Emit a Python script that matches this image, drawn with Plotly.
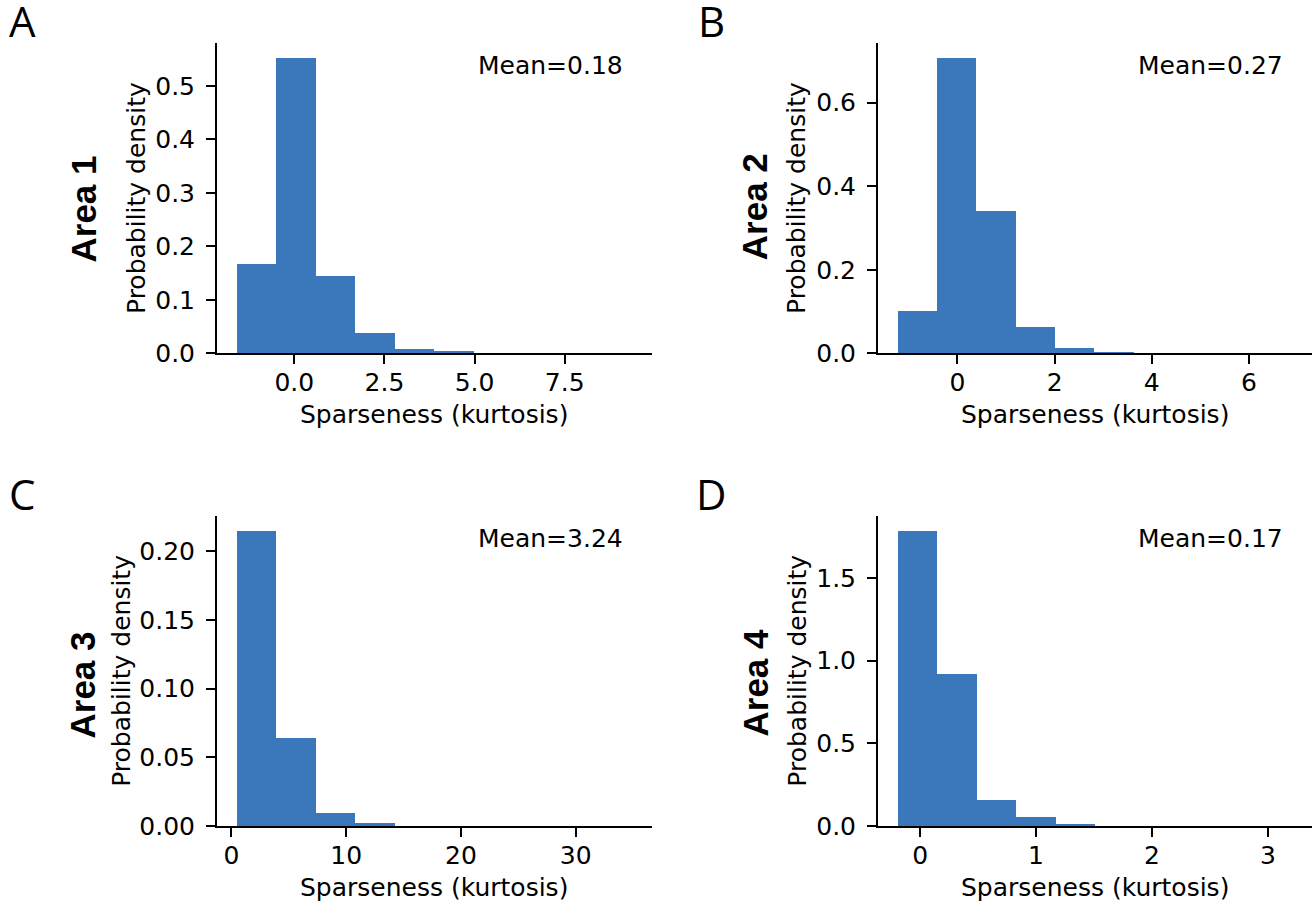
import plotly.graph_objects as go

# ---------------- data ----------------
edges_area1 = [-1.59, -0.50, 0.60, 1.69, 2.79, 3.88, 4.98, 6.07, 7.17, 8.26, 9.36]
dens_area1 = [0.167, 0.552, 0.1445, 0.038, 0.008, 0.0043, 0.0, 0.0, 0.0, 0.0]

edges_area2 = [-1.23, -0.42, 0.39, 1.20, 2.01, 2.82, 3.63, 4.44, 5.25, 6.06, 6.87]
dens_area2 = [0.101, 0.7065, 0.3405, 0.0637, 0.0127, 0.003, 0.0, 0.0, 0.0, 0.0]

edges_area3 = [0.46, 3.90, 7.34, 10.78, 14.22, 17.66, 21.10, 24.54, 27.98, 31.42, 34.86]
dens_area3 = [0.2145, 0.064, 0.0095, 0.0022, 0.0, 0.0, 0.0, 0.0, 0.0, 0.0]

edges_area4 = [-0.19, 0.15, 0.49, 0.83, 1.17, 1.51, 1.85, 2.19, 2.53, 2.87, 3.21]
dens_area4 = [1.783, 0.919, 0.157, 0.054, 0.012, 0.0, 0.0, 0.0, 0.0, 0.0]

means = ["0.18", "0.27", "3.24", "0.17"]
area_labels = ["Area 1", "Area 2", "Area 3", "Area 4"]
panel_letters = ["A", "B", "C", "D"]

xticks = [[0.0, 2.5, 5.0, 7.5], [0, 2, 4, 6], [0, 10, 20, 30], [0, 1, 2, 3]]
xticktext = [["0.0", "2.5", "5.0", "7.5"], ["0", "2", "4", "6"], ["0", "10", "20", "30"], ["0", "1", "2", "3"]]
yticks = [[0.0, 0.1, 0.2, 0.3, 0.4, 0.5], [0.0, 0.2, 0.4, 0.6],
          [0.00, 0.05, 0.10, 0.15, 0.20], [0.0, 0.5, 1.0, 1.5]]
yticktext = [["0.0", "0.1", "0.2", "0.3", "0.4", "0.5"], ["0.0", "0.2", "0.4", "0.6"],
             ["0.00", "0.05", "0.10", "0.15", "0.20"], ["0.0", "0.5", "1.0", "1.5"]]

xranges = [[-2.144, 9.909], [-1.634, 7.29], [-1.26, 36.6], [-0.363, 3.378]]
yranges = [[0, 0.58], [0, 0.743], [0, 0.2255], [0, 1.875]]

# ---------------- layout geometry ----------------
W, H = 1314, 905
BLUE = "#3a77bb"
FONT = "DejaVu Sans"
FS = 25

xdom = [[217 / W, 651.5 / W], [878 / W, 1311.7 / W]]
ydom = [[1 - 353.3 / H, 1 - 43 / H], [1 - 826 / H, 1 - 516 / H]]

fig = go.Figure()

all_edges = [edges_area1, edges_area2, edges_area3, edges_area4]
all_dens = [dens_area1, dens_area2, dens_area3, dens_area4]

for i in range(4):
    e = all_edges[i]
    d = all_dens[i]
    centers = [(e[k] + e[k + 1]) / 2 for k in range(len(d))]
    widths = [(e[k + 1] - e[k]) for k in range(len(d))]
    ax = "" if i == 0 else str(i + 1)
    fig.add_trace(go.Bar(
        x=centers, y=d, width=widths,
        marker=dict(color=BLUE, line=dict(width=0)),
        xaxis="x" + ax, yaxis="y" + ax, showlegend=False,
    ))
    col = i % 2
    row = i // 2
    axis_common = dict(
        showline=True, linewidth=2, linecolor="black", ticks="outside",
        ticklen=9, tickwidth=2, tickcolor="black", showgrid=False, zeroline=False,
        automargin=False,
        tickfont=dict(family=FONT, size=FS, color="black"),
    )
    fig.update_layout(**{
        "xaxis" + ax: dict(domain=xdom[col], range=xranges[i], tickmode="array",
                           tickvals=xticks[i], ticktext=xticktext[i],
                           anchor="y" + ax, ticklabelstandoff=-3, **axis_common),
        "yaxis" + ax: dict(domain=ydom[row], range=yranges[i], tickmode="array",
                           tickvals=yticks[i], ticktext=yticktext[i],
                           anchor="x" + ax, ticklabelstandoff=6, **axis_common),
    })

ann = []
mean_pos = [(550.3, 65.5), (1210.5, 65.5), (550.3, 538.5), (1210.5, 538.5)]
area_pos = [(82.5, 209), (754.5, 206.7), (81.5, 685), (754.5, 683)]
ylab_pos = [(136.7, 198.3), (796.7, 198.3), (120.8, 671), (796.7, 671)]
xlab_pos = [(434.3, 414.5), (1095, 414.5), (434.3, 887.5), (1095, 887.5)]
letter_pos = [(22, -10), (711, -10), (22, 463), (711, 463)]

for i in range(4):
    mx, my = mean_pos[i]
    ann.append(dict(x=mx / W, y=1 - my / H, xref="paper", yref="paper",
                    text="Mean=" + means[i], showarrow=False, xanchor="center", yanchor="middle",
                    font=dict(family=FONT, size=FS, color="black")))
    axx, ayy = area_pos[i]
    ann.append(dict(x=axx / W, y=1 - ayy / H, xref="paper", yref="paper",
                    text="<b>" + area_labels[i] + "</b>", showarrow=False, textangle=-90,
                    xanchor="center", yanchor="middle",
                    font=dict(family="Liberation Sans", size=35, color="black")))
    lx, ly = ylab_pos[i]
    ann.append(dict(x=lx / W, y=1 - ly / H, xref="paper", yref="paper",
                    text="Probability density", showarrow=False, textangle=-90,
                    xanchor="center", yanchor="middle",
                    font=dict(family=FONT, size=FS, color="black")))
    xx, xy = xlab_pos[i]
    ann.append(dict(x=xx / W, y=1 - xy / H, xref="paper", yref="paper",
                    text="Sparseness (kurtosis)", showarrow=False,
                    xanchor="center", yanchor="middle",
                    font=dict(family=FONT, size=FS, color="black")))
    px, py = letter_pos[i]
    ann.append(dict(x=px / W, y=1 - py / H, xref="paper", yref="paper",
                    text=panel_letters[i], showarrow=False,
                    xanchor="center", yanchor="top",
                    font=dict(family="Open Sans", size=42, color="black")))

fig.update_layout(
    width=W, height=H, margin=dict(l=0, r=0, t=0, b=0, autoexpand=False),
    paper_bgcolor="white", plot_bgcolor="white", bargap=0,
    annotations=ann,
)

fig.write_html("out.html", config={"displayModeBar": False})
